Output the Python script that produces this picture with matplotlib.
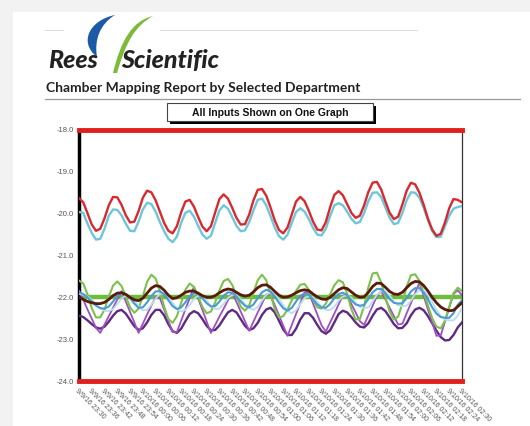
import matplotlib
matplotlib.use("Agg")
import matplotlib.pyplot as plt
import pandas as pd
from matplotlib.patches import Rectangle, PathPatch
from matplotlib.path import Path

# ---------------------------------------------------------------
# data: one reading every 2 minutes, 9/9/16 23:30 -> 9/10/16 02:30
# ---------------------------------------------------------------
times = pd.date_range("2016-09-09 23:30", periods=91, freq="2min")

red_probe = [-19.63, -19.73, -19.99, -20.26, -20.41, -20.36, -20.11, -19.80, -19.60, -19.61,
             -19.79, -20.04, -20.21, -20.19, -19.94, -19.62, -19.45, -19.49, -19.68, -19.95,
             -20.22, -20.41, -20.47, -20.30, -19.97, -19.71, -19.67, -19.83, -20.08, -20.31,
             -20.42, -20.30, -19.97, -19.65, -19.54, -19.64, -19.86, -20.10, -20.26, -20.25,
             -20.02, -19.68, -19.43, -19.41, -19.57, -19.85, -20.16, -20.39, -20.47, -20.33,
             -20.02, -19.71, -19.60, -19.70, -19.93, -20.19, -20.38, -20.40, -20.20, -19.85,
             -19.55, -19.46, -19.56, -19.77, -19.98, -20.10, -20.05, -19.80, -19.48, -19.26,
             -19.24, -19.42, -19.71, -19.98, -20.13, -20.07, -19.78, -19.45, -19.26, -19.30,
             -19.50, -19.79, -20.12, -20.38, -20.53, -20.48, -20.21, -19.87, -19.65, -19.67,
             -19.73]

cyan_probe = [-19.96, -19.98, -20.24, -20.46, -20.62, -20.60, -20.36, -20.05, -19.90, -19.91,
              -20.04, -20.24, -20.41, -20.42, -20.19, -19.90, -19.74, -19.77, -19.95, -20.20,
              -20.42, -20.60, -20.68, -20.55, -20.22, -19.98, -19.93, -20.07, -20.29, -20.50,
              -20.60, -20.53, -20.22, -19.92, -19.80, -19.88, -20.08, -20.29, -20.42, -20.40,
              -20.20, -19.92, -19.67, -19.64, -19.80, -20.06, -20.33, -20.54, -20.62, -20.50,
              -20.22, -19.96, -19.87, -19.95, -20.13, -20.34, -20.50, -20.52, -20.36, -20.06,
              -19.80, -19.75, -19.80, -19.95, -20.12, -20.23, -20.20, -19.98, -19.70, -19.50,
              -19.49, -19.60, -19.85, -20.10, -20.25, -20.22, -19.98, -19.68, -19.49, -19.50,
              -19.62, -19.86, -20.16, -20.42, -20.56, -20.55, -20.30, -20.05, -19.88, -19.84,
              -19.82]

green_probe = [-21.60, -21.67, -21.93, -22.26, -22.48, -22.48, -22.29, -21.98, -21.72, -21.62,
               -21.73, -21.98, -22.24, -22.37, -22.27, -21.97, -21.63, -21.46, -21.55, -21.85,
               -22.22, -22.52, -22.61, -22.45, -22.13, -21.82, -21.67, -21.75, -21.98, -22.23,
               -22.38, -22.34, -22.12, -21.83, -21.61, -21.56, -21.70, -21.97, -22.22, -22.32,
               -22.19, -21.89, -21.59, -21.46, -21.59, -21.93, -22.28, -22.48, -22.45, -22.29,
               -22.07, -21.85, -21.70, -21.68, -21.82, -22.06, -22.24, -22.27, -22.15, -21.93,
               -21.71, -21.59, -21.64, -21.91, -22.28, -22.53, -22.52, -22.21, -21.76, -21.43,
               -21.41, -21.64, -22.00, -22.34, -22.53, -22.46, -22.14, -21.74, -21.47, -21.45,
               -21.61, -21.88, -22.20, -22.50, -22.70, -22.74, -22.56, -22.22, -21.90, -21.77,
               -21.85]

brown_probe = [-22.00, -22.05, -22.10, -22.13, -22.15, -22.15, -22.12, -22.05, -21.96, -21.90,
               -21.89, -21.93, -22.00, -22.06, -22.08, -22.02, -21.90, -21.78, -21.72, -21.74,
               -21.83, -21.95, -22.03, -22.01, -21.95, -21.88, -21.85, -21.85, -21.90, -21.96,
               -22.00, -22.00, -21.96, -21.89, -21.83, -21.80, -21.82, -21.88, -21.94, -21.97,
               -21.95, -21.87, -21.77, -21.71, -21.70, -21.76, -21.86, -21.95, -22.00, -21.99,
               -21.95, -21.89, -21.84, -21.82, -21.84, -21.92, -21.99, -22.04, -22.05, -22.00,
               -21.91, -21.82, -21.77, -21.79, -21.87, -21.95, -22.00, -21.99, -21.88, -21.74,
               -21.66, -21.67, -21.76, -21.86, -21.92, -21.93, -21.88, -21.77, -21.67, -21.62,
               -21.63, -21.72, -21.85, -22.00, -22.13, -22.23, -22.29, -22.32, -22.31, -22.22,
               -22.13]

blue_probe = [-21.88, -21.92, -22.00, -22.10, -22.20, -22.26, -22.27, -22.22, -22.10, -21.97,
              -21.90, -21.92, -22.02, -22.15, -22.25, -22.24, -22.12, -21.97, -21.86, -21.85,
              -21.93, -22.07, -22.21, -22.28, -22.24, -22.12, -21.98, -21.90, -21.92, -22.02,
              -22.14, -22.22, -22.21, -22.10, -21.96, -21.88, -21.89, -21.98, -22.10, -22.20,
              -22.24, -22.17, -22.02, -21.88, -21.82, -21.86, -21.98, -22.13, -22.26, -22.32,
              -22.25, -22.10, -21.96, -21.91, -21.94, -22.05, -22.17, -22.24, -22.25, -22.16,
              -22.02, -21.92, -21.89, -21.95, -22.07, -22.17, -22.20, -22.18, -22.04, -21.88,
              -21.80, -21.80, -21.90, -22.04, -22.13, -22.15, -22.14, -22.02, -21.86, -21.78,
              -21.78, -21.88, -22.05, -22.24, -22.39, -22.47, -22.49, -22.49, -22.38, -22.18,
              -22.07]

pale_probe = [-21.92, -21.94, -21.98, -22.06, -22.16, -22.26, -22.32, -22.33, -22.28, -22.16,
              -22.03, -21.96, -21.98, -22.08, -22.21, -22.31, -22.30, -22.18, -22.03, -21.92,
              -21.91, -21.99, -22.13, -22.27, -22.34, -22.30, -22.18, -22.04, -21.96, -21.98,
              -22.08, -22.20, -22.28, -22.27, -22.16, -22.02, -21.94, -21.95, -22.04, -22.16,
              -22.26, -22.30, -22.23, -22.08, -21.94, -21.88, -21.92, -22.04, -22.19, -22.32,
              -22.38, -22.31, -22.16, -22.02, -21.97, -22.00, -22.11, -22.23, -22.30, -22.31,
              -22.22, -22.08, -21.98, -21.95, -22.01, -22.13, -22.23, -22.26, -22.24, -22.10,
              -21.94, -21.86, -21.86, -21.96, -22.10, -22.19, -22.21, -22.20, -22.08, -21.92,
              -21.84, -21.84, -21.94, -22.11, -22.30, -22.45, -22.53, -22.55, -22.55, -22.44,
              -22.24]

purple_probe = [-21.84, -22.06, -22.29, -22.51, -22.73, -22.85, -22.65, -22.45, -22.25, -22.05,
                -21.85, -22.10, -22.35, -22.60, -22.85, -22.63, -22.41, -22.20, -21.99, -22.02,
                -22.29, -22.56, -22.83, -22.83, -22.56, -22.29, -22.02, -21.75, -22.03, -22.30,
                -22.58, -22.85, -22.66, -22.46, -22.27, -22.07, -21.88, -22.11, -22.34, -22.57,
                -22.80, -22.58, -22.36, -22.15, -21.93, -21.94, -22.19, -22.43, -22.68, -22.92,
                -22.66, -22.40, -22.14, -21.88, -21.88, -22.15, -22.41, -22.67, -22.82, -22.60,
                -22.39, -22.17, -21.96, -21.95, -22.16, -22.36, -22.57, -22.66, -22.43, -22.20,
                -21.97, -21.85, -22.05, -22.25, -22.45, -22.65, -22.63, -22.38, -22.14, -21.89,
                -21.65, -21.97, -22.29, -22.60, -22.92, -22.91, -22.58, -22.25, -21.92, -21.83,
                -21.95]

dark_purple_probe = [-22.44, -22.47, -22.55, -22.64, -22.72, -22.75, -22.70, -22.58, -22.44, -22.33,
                     -22.30, -22.39, -22.54, -22.69, -22.78, -22.74, -22.60, -22.42, -22.30, -22.30,
                     -22.43, -22.64, -22.81, -22.85, -22.75, -22.57, -22.40, -22.33, -22.38, -22.52,
                     -22.68, -22.79, -22.78, -22.67, -22.51, -22.36, -22.30, -22.36, -22.52, -22.68,
                     -22.78, -22.74, -22.61, -22.42, -22.29, -22.25, -22.36, -22.56, -22.77, -22.90,
                     -22.90, -22.75, -22.53, -22.38, -22.38, -22.49, -22.66, -22.81, -22.87, -22.79,
                     -22.60, -22.40, -22.32, -22.36, -22.47, -22.60, -22.70, -22.72, -22.62, -22.44,
                     -22.29, -22.25, -22.33, -22.48, -22.64, -22.74, -22.73, -22.62, -22.43, -22.29,
                     -22.25, -22.31, -22.45, -22.62, -22.80, -22.95, -23.03, -23.02, -22.90, -22.72,
                     -22.60]

SETPOINT = -22.0
HIGH_LIMIT = -18.0
LOW_LIMIT = -24.0

y_ticks = [-18.0, -19.0, -20.0, -21.0, -22.0, -23.0, -24.0]
tick_times = pd.date_range("2016-09-09 23:30", periods=31, freq="6min")
tick_labels = ["9/9/16 23:30", "9/9/16 23:36", "9/9/16 23:42", "9/9/16 23:48", "9/9/16 23:54",
               "9/10/16 00:00", "9/10/16 00:06", "9/10/16 00:12", "9/10/16 00:18", "9/10/16 00:24",
               "9/10/16 00:30", "9/10/16 00:36", "9/10/16 00:42", "9/10/16 00:48", "9/10/16 00:54",
               "9/10/16 01:00", "9/10/16 01:06", "9/10/16 01:12", "9/10/16 01:18", "9/10/16 01:24",
               "9/10/16 01:30", "9/10/16 01:36", "9/10/16 01:42", "9/10/16 01:48", "9/10/16 01:54",
               "9/10/16 02:00", "9/10/16 02:06", "9/10/16 02:12", "9/10/16 02:18", "9/10/16 02:24",
               "9/10/16 02:30"]

# ---------------------------------------------------------------
# page (report header drawn in pixel coordinates)
# ---------------------------------------------------------------
W, H = 530, 426
fig = plt.figure(figsize=(W / 100, H / 100), dpi=100, facecolor="#f2f2f2")

page = fig.add_axes([0, 0, 1, 1], zorder=0)
page.set_xlim(0, W)
page.set_ylim(H, 0)
page.axis("off")
page.add_patch(Rectangle((13, 12), W - 13, H - 12, facecolor="white", edgecolor="none"))

# header line broken by the logo
page.plot([45, 63], [30, 30], color="#dddddd", lw=0.8)
page.plot([160, 417], [30, 30], color="#dddddd", lw=0.8)

# logo swooshes
blue_shape = Path([(97, 57), (78, 42), (90, 20), (115, 15), (100, 24), (94, 40), (97, 57)],
                  [Path.MOVETO, Path.CURVE4, Path.CURVE4, Path.CURVE4,
                   Path.CURVE4, Path.CURVE4, Path.CURVE4])
page.add_patch(PathPatch(blue_shape, facecolor="#1c5aa6", edgecolor="none"))
green_shape = Path([(113, 73), (121, 40), (132, 21), (153, 16), (135, 26), (126, 42), (117, 73), (113, 73)],
                   [Path.MOVETO, Path.CURVE4, Path.CURVE4, Path.CURVE4,
                    Path.CURVE4, Path.CURVE4, Path.CURVE4, Path.CLOSEPOLY])
page.add_patch(PathPatch(green_shape, facecolor="#7cbb3a", edgecolor="none"))

page.text(48, 68, "Rees", fontsize=18, fontweight="black", style="italic",
          family=["Lato", "DejaVu Sans"], color="#222222", va="baseline")
page.text(121, 68, "Scientific", fontsize=18, fontweight="black", style="italic",
          family=["Lato", "DejaVu Sans"], color="#222222", va="baseline")

page.text(46, 92, "Chamber Mapping Report by Selected Department", fontsize=10,
          fontweight="bold", family=["Lato", "DejaVu Sans"], color="#222222", va="baseline")
page.plot([45, 520], [99, 99], color="#999999", lw=0.9)

# title box with shadow
page.add_patch(Rectangle((170, 106), 206, 18, facecolor="black", edgecolor="none"))
page.add_patch(Rectangle((167, 103), 206, 18, facecolor="white", edgecolor="#444444", lw=0.8))
page.text(270, 112.5, "All Inputs Shown on One Graph", fontsize=7.5, fontweight="bold",
          family=["Liberation Sans", "DejaVu Sans"], ha="center", va="center", color="#111111")

# ---------------------------------------------------------------
# chart
# ---------------------------------------------------------------
ax = fig.add_axes([79 / W, 1 - 381 / H, (462 - 79) / W, (381 - 130) / H], zorder=1)
ax.set_facecolor("white")

ax.plot(times, [SETPOINT] * len(times), color="#6cbd3c", lw=3.2, zorder=2)
ax.plot(times, [HIGH_LIMIT] * len(times), color="#e0201e", lw=3.5, clip_on=False, zorder=5)
ax.plot(times, [LOW_LIMIT] * len(times), color="#e0201e", lw=3.5, clip_on=False, zorder=5)

ax.plot(times, cyan_probe, color="#6ec6d8", lw=1.7, zorder=3)
ax.plot(times, red_probe, color="#d9282e", lw=1.7, zorder=3)
ax.plot(times, dark_purple_probe, color="#5e2a82", lw=1.7, zorder=3)
ax.plot(times, purple_probe, color="#a04fc0", lw=1.3, zorder=3)
ax.plot(times, green_probe, color="#7cc14c", lw=1.5, zorder=3)
ax.plot(times, pale_probe, color="#b9dfee", lw=1.3, zorder=3)
ax.plot(times, blue_probe, color="#4a9ad6", lw=1.5, zorder=3)
ax.plot(times, brown_probe, color="#5a1a0c", lw=2.0, zorder=4)

ax.set_xlim(times[0], times[-1])
ax.set_ylim(LOW_LIMIT, HIGH_LIMIT)
ax.set_yticks(y_ticks)
ax.set_yticklabels(["%.1f" % v for v in y_ticks], fontsize=5.5, color="#555555",
                   family=["Liberation Sans", "DejaVu Sans"])
ax.set_xticks(tick_times)
ax.set_xticklabels(tick_labels, fontsize=5, color="#555555", rotation=-45,
                   ha="left", va="top", rotation_mode="anchor",
                   family=["Liberation Sans", "DejaVu Sans"])
ax.tick_params(axis="both", length=0, pad=4)
ax.tick_params(axis="x", pad=5)

ax.spines["top"].set_visible(False)
ax.spines["bottom"].set_visible(False)
ax.spines["left"].set_color("black")
ax.spines["left"].set_linewidth(2.5)
ax.spines["right"].set_color("#333333")
ax.spines["right"].set_linewidth(0.9)

fig.savefig("out.png", dpi=100, facecolor=fig.get_facecolor())
